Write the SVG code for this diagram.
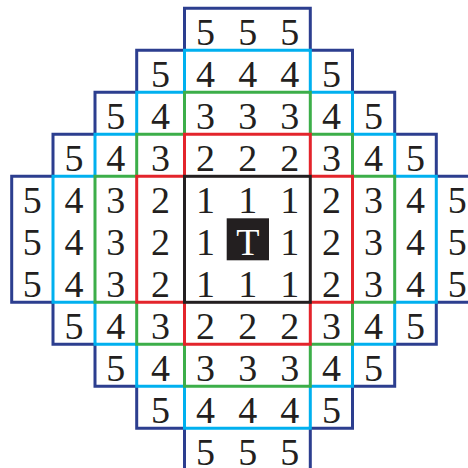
<svg xmlns="http://www.w3.org/2000/svg" width="468" height="468" viewBox="0 0 468 468">
<style>
.n{font-family:"Liberation Serif","Times New Roman",serif;font-size:38px;text-anchor:middle;fill:#231f20}
.b{fill:none;stroke-width:3;stroke-linejoin:miter}
</style>
<rect width="468" height="468" fill="#fff"/>
<g id="connectors">
<polygon class="b" stroke="#2c3e8f" points="184.5,8.3 310.3,8.3 310.3,50.3 352.5,50.3 352.5,92.3 394.7,92.3 394.7,134.3 436.3,134.3 436.3,176.3 478,176.3 478,302.3 436.3,302.3 436.3,344.3 394.7,344.3 394.7,386.3 352.5,386.3 352.5,428.3 310.3,428.3 310.3,470.3 184.5,470.3 184.5,428.3 136.7,428.3 136.7,386.3 95,386.3 95,344.3 53,344.3 53,302.3 11.7,302.3 11.7,176.3 53,176.3 53,134.3 95,134.3 95,92.3 136.7,92.3 136.7,50.3 184.5,50.3"/>
<polygon class="b" stroke="#00b0ef" points="184.5,50.3 310.3,50.3 310.3,92.3 352.5,92.3 352.5,134.3 394.7,134.3 394.7,176.3 436.3,176.3 436.3,302.3 394.7,302.3 394.7,344.3 352.5,344.3 352.5,386.3 310.3,386.3 310.3,428.3 184.5,428.3 184.5,386.3 136.7,386.3 136.7,344.3 95,344.3 95,302.3 53,302.3 53,176.3 95,176.3 95,134.3 136.7,134.3 136.7,92.3 184.5,92.3"/>
<polygon class="b" stroke="#3cae49" points="184.5,92.3 310.3,92.3 310.3,134.3 352.5,134.3 352.5,176.3 394.7,176.3 394.7,302.3 352.5,302.3 352.5,344.3 310.3,344.3 310.3,386.3 184.5,386.3 184.5,344.3 136.7,344.3 136.7,302.3 95,302.3 95,176.3 136.7,176.3 136.7,134.3 184.5,134.3"/>
<polygon class="b" stroke="#e3242b" points="184.5,134.3 310.3,134.3 310.3,176.3 352.5,176.3 352.5,302.3 310.3,302.3 310.3,344.3 184.5,344.3 184.5,302.3 136.7,302.3 136.7,176.3 184.5,176.3"/>
<rect class="b" stroke="#231f20" x="184.5" y="176.3" width="125.8" height="126"/>
</g>
<g id="level5">
<text class="n" x="205.6" y="44.8">5</text><text class="n" x="247.85" y="44.8">5</text><text class="n" x="289.65" y="44.8">5</text>
<text class="n" x="160.6" y="86.8">5</text><text class="n" x="331.4" y="86.8">5</text>
<text class="n" x="115.85" y="128.8">5</text><text class="n" x="373.6" y="128.8">5</text>
<text class="n" x="74" y="170.8">5</text><text class="n" x="415.5" y="170.8">5</text>
<text class="n" x="32.35" y="212.8">5</text><text class="n" x="457.15" y="212.8">5</text>
<text class="n" x="32.35" y="254.8">5</text><text class="n" x="457.15" y="254.8">5</text>
<text class="n" x="32.35" y="296.8">5</text><text class="n" x="457.15" y="296.8">5</text>
<text class="n" x="74" y="338.8">5</text><text class="n" x="415.5" y="338.8">5</text>
<text class="n" x="115.85" y="380.8">5</text><text class="n" x="373.6" y="380.8">5</text>
<text class="n" x="160.6" y="422.8">5</text><text class="n" x="331.4" y="422.8">5</text>
<text class="n" x="205.6" y="464.8">5</text><text class="n" x="247.85" y="464.8">5</text><text class="n" x="289.65" y="464.8">5</text>
</g>
<g id="level4">
<text class="n" x="205.6" y="86.8">4</text><text class="n" x="247.85" y="86.8">4</text><text class="n" x="289.65" y="86.8">4</text>
<text class="n" x="160.6" y="128.8">4</text><text class="n" x="331.4" y="128.8">4</text>
<text class="n" x="115.85" y="170.8">4</text><text class="n" x="373.6" y="170.8">4</text>
<text class="n" x="74" y="212.8">4</text><text class="n" x="415.5" y="212.8">4</text>
<text class="n" x="74" y="254.8">4</text><text class="n" x="415.5" y="254.8">4</text>
<text class="n" x="74" y="296.8">4</text><text class="n" x="415.5" y="296.8">4</text>
<text class="n" x="115.85" y="338.8">4</text><text class="n" x="373.6" y="338.8">4</text>
<text class="n" x="160.6" y="380.8">4</text><text class="n" x="331.4" y="380.8">4</text>
<text class="n" x="205.6" y="422.8">4</text><text class="n" x="247.85" y="422.8">4</text><text class="n" x="289.65" y="422.8">4</text>
</g>
<g id="level3">
<text class="n" x="205.6" y="128.8">3</text><text class="n" x="247.85" y="128.8">3</text><text class="n" x="289.65" y="128.8">3</text>
<text class="n" x="160.6" y="170.8">3</text><text class="n" x="331.4" y="170.8">3</text>
<text class="n" x="115.85" y="212.8">3</text><text class="n" x="373.6" y="212.8">3</text>
<text class="n" x="115.85" y="254.8">3</text><text class="n" x="373.6" y="254.8">3</text>
<text class="n" x="115.85" y="296.8">3</text><text class="n" x="373.6" y="296.8">3</text>
<text class="n" x="160.6" y="338.8">3</text><text class="n" x="331.4" y="338.8">3</text>
<text class="n" x="205.6" y="380.8">3</text><text class="n" x="247.85" y="380.8">3</text><text class="n" x="289.65" y="380.8">3</text>
</g>
<g id="level2">
<text class="n" x="205.6" y="170.8">2</text><text class="n" x="247.85" y="170.8">2</text><text class="n" x="289.65" y="170.8">2</text>
<text class="n" x="160.6" y="212.8">2</text><text class="n" x="331.4" y="212.8">2</text>
<text class="n" x="160.6" y="254.8">2</text><text class="n" x="331.4" y="254.8">2</text>
<text class="n" x="160.6" y="296.8">2</text><text class="n" x="331.4" y="296.8">2</text>
<text class="n" x="205.6" y="338.8">2</text><text class="n" x="247.85" y="338.8">2</text><text class="n" x="289.65" y="338.8">2</text>
</g>
<g id="level1">
<text class="n" x="205.6" y="212.8">1</text><text class="n" x="247.85" y="212.8">1</text><text class="n" x="289.65" y="212.8">1</text>
<text class="n" x="205.6" y="254.8">1</text><text class="n" x="289.65" y="254.8">1</text>
<text class="n" x="205.6" y="296.8">1</text><text class="n" x="247.85" y="296.8">1</text><text class="n" x="289.65" y="296.8">1</text>
</g>
<g id="target">
<rect x="226.7" y="218.3" width="42.3" height="42" fill="#231f20"/>
<text class="n" x="247.85" y="254.8" style="fill:#fff">T</text>
</g>
</svg>
